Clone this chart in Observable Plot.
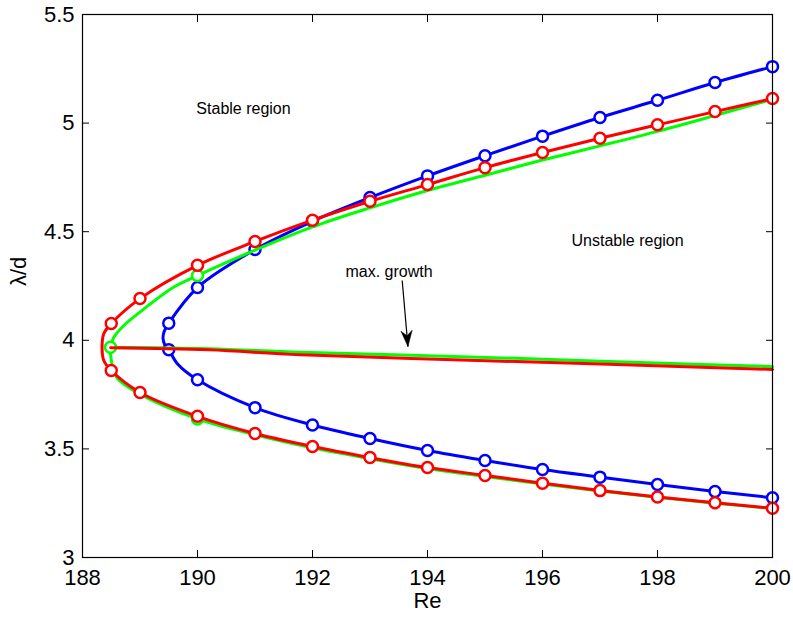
<!DOCTYPE html>
<html>
<head>
<meta charset="utf-8">
<script src="https://cdn.jsdelivr.net/npm/d3@7"></script>
<script src="https://cdn.jsdelivr.net/npm/@observablehq/plot@0.6"></script>
<style>
  html, body { margin: 0; padding: 0; background: #fff; }
  #chart { width: 793px; height: 617px; }
</style>
</head>
<body>
<div id="chart"></div>
<script>
// ---------- data ----------
const xTicks = [188, 190, 192, 194, 196, 198, 200];
const xTickLabels = ["188", "190", "192", "194", "196", "198", "200"];
const yTicks = [3, 3.5, 4, 4.5, 5, 5.5];
const yTickLabels = ["3", "3.5", "4", "4.5", "5", "5.5"];

// blue neutral curve (upper branch -> nose -> lower branch)
const blueRe = [200, 199, 198, 197, 196, 195, 194, 193, 192, 191, 190, 189.5, 189.42, 189.40, 189.43, 189.5, 189.65, 190, 191, 192, 193, 194, 195, 196, 197, 198, 199, 200];
const blueLd = [5.26, 5.187, 5.105, 5.026, 4.94, 4.85, 4.757, 4.657, 4.548, 4.418, 4.243, 4.079, 4.04, 4.01, 3.98, 3.957, 3.892, 3.818, 3.69, 3.61, 3.548, 3.493, 3.447, 3.405, 3.37, 3.336, 3.304, 3.275];
const blueMarkRe = [200, 199, 198, 197, 196, 195, 194, 193, 192, 191, 190, 189.5, 189.5, 190, 191, 192, 193, 194, 195, 196, 197, 198, 199, 200];
const blueMarkLd = [5.26, 5.187, 5.105, 5.026, 4.94, 4.85, 4.757, 4.657, 4.548, 4.418, 4.243, 4.079, 3.957, 3.818, 3.69, 3.61, 3.548, 3.493, 3.447, 3.405, 3.37, 3.336, 3.304, 3.275];

// green neutral curve
const greenRe = [200, 199, 198, 197, 196, 195, 194, 193, 192, 191, 190, 189.59, 189, 188.72, 188.545, 188.487, 188.5, 188.53, 188.62, 189, 190, 191, 192, 193, 194, 195, 196, 197, 198, 199, 200];
const greenLd = [5.11, 5.035, 4.962, 4.895, 4.83, 4.76, 4.69, 4.61, 4.522, 4.415, 4.298, 4.245, 4.13, 4.068, 4.014, 3.968, 3.91, 3.87, 3.82, 3.752, 3.638, 3.565, 3.505, 3.455, 3.41, 3.373, 3.338, 3.306, 3.277, 3.25, 3.226];
const greenMarkRe = [188.487, 190, 190];
const greenMarkLd = [3.968, 4.298, 3.638];
const greenMaxRe = [188.49, 190.2, 191.8, 195.3, 197.7, 200];
const greenMaxLd = [3.968, 3.961, 3.945, 3.919, 3.898, 3.879];

// red neutral curve
const redRe = [200, 199, 198, 197, 196, 195, 194, 193, 192, 191, 190, 189, 188.5, 188.37, 188.34, 188.37, 188.5, 189, 190, 191, 192, 193, 194, 195, 196, 197, 198, 199, 200];
const redLd = [5.113, 5.053, 4.992, 4.93, 4.865, 4.795, 4.717, 4.64, 4.553, 4.455, 4.345, 4.192, 4.077, 4.03, 3.967, 3.907, 3.861, 3.76, 3.65, 3.571, 3.511, 3.46, 3.414, 3.378, 3.342, 3.308, 3.279, 3.252, 3.227];
const redMarkRe = [200, 199, 198, 197, 196, 195, 194, 193, 192, 191, 190, 189, 188.5, 188.5, 189, 190, 191, 192, 193, 194, 195, 196, 197, 198, 199, 200];
const redMarkLd = [5.113, 5.053, 4.992, 4.93, 4.865, 4.795, 4.717, 4.64, 4.553, 4.455, 4.345, 4.192, 4.077, 3.861, 3.76, 3.65, 3.571, 3.511, 3.46, 3.414, 3.378, 3.342, 3.308, 3.279, 3.252, 3.227];
const redMaxRe = [188.49, 190.2, 191.8, 195.3, 197.7, 200];
const redMaxLd = [3.966, 3.956, 3.933, 3.904, 3.885, 3.866];

// annotations
const noteText = ["Stable region", "Unstable region", "max. growth"];
const noteRe = [190.8, 197.48, 193.33];
const noteLd = [5.067, 4.46, 4.317];
const arrowFromRe = [193.56], arrowFromLd = [4.275];
const arrowToRe = [193.66], arrowToLd = [3.971];

// ---------- helpers ----------
const pts = (xs, ys) => xs.map((x, i) => ({x, y: ys[i]}));
const xLab = new Map(xTicks.map((t, i) => [t, xTickLabels[i]]));
const yLab = new Map(yTicks.map((t, i) => [t, yTickLabels[i]]));
const BLUE = "#0000ff", GREEN = "#00ff00", RED = "#ff0000";
const LW = 3, MR = 5.5, MW = 2.5;

const arrowHead = {
  draw(context, size) {
    const r = Math.sqrt(size / Math.PI);
    context.moveTo(0, 0);
    context.lineTo(-0.7 * r, -2 * r);
    context.lineTo(0, -1.35 * r);
    context.lineTo(0.7 * r, -2 * r);
    context.closePath();
  }
};

const curveMarks = (xs, ys, mx, my, color, extra) => [
  Plot.line(pts(xs, ys), {x: "x", y: "y", stroke: color, strokeWidth: LW, curve: "catmull-rom"}),
  ...(extra || []),
  Plot.dot(pts(mx, my), {x: "x", y: "y", r: MR, stroke: color, strokeWidth: MW, fill: "white"})
];

const chart = Plot.plot({
  width: 793,
  height: 617,
  marginLeft: 82,
  marginRight: 21,
  marginTop: 14,
  marginBottom: 60,
  x: {domain: [188, 200]},
  y: {domain: [3, 5.5]},
  style: {fontFamily: "'Liberation Sans', Arial, Helvetica, sans-serif", background: "white", color: "black"},
  marks: [
    // tick labels
    Plot.axisX(xTicks, {anchor: "bottom", tickSize: 0, tickPadding: 12, fontSize: 22, tickFormat: d => xLab.get(d), label: null}),
    Plot.axisY(yTicks, {anchor: "left", tickSize: 0, tickPadding: 8, fontSize: 22, tickFormat: d => yLab.get(d), label: null}),
    // inward ticks on all four sides
    Plot.axisX(xTicks, {anchor: "bottom", tickSize: 7, dy: -7, tickFormat: () => "", label: null, stroke: "black"}),
    Plot.axisX(xTicks, {anchor: "top", tickSize: 7, dy: 7, tickFormat: () => "", label: null, stroke: "black"}),
    Plot.axisY(yTicks, {anchor: "left", tickSize: 7, dx: 7, tickFormat: () => "", label: null, stroke: "black"}),
    Plot.axisY(yTicks, {anchor: "right", tickSize: 7, dx: -7, tickFormat: () => "", label: null, stroke: "black"}),
    // axis titles
    Plot.text(["Re"], {frameAnchor: "bottom", dy: 50, fontSize: 22, fill: "black"}),
    Plot.text(["λ/d"], {frameAnchor: "left", dx: -64, rotate: -90, fontSize: 22, fill: "black"}),
    // curves
    ...curveMarks(blueRe, blueLd, blueMarkRe, blueMarkLd, BLUE),
    ...curveMarks(greenRe, greenLd, greenMarkRe, greenMarkLd, GREEN, [
      Plot.line(pts(greenMaxRe, greenMaxLd), {x: "x", y: "y", stroke: GREEN, strokeWidth: LW, curve: "catmull-rom"})
    ]),
    ...curveMarks(redRe, redLd, redMarkRe, redMarkLd, RED, [
      Plot.line(pts(redMaxRe, redMaxLd), {x: "x", y: "y", stroke: RED, strokeWidth: LW, curve: "catmull-rom"})
    ]),
    // annotations
    Plot.text(noteText.map((t, i) => ({t, x: noteRe[i], y: noteLd[i]})), {x: "x", y: "y", text: "t", fontSize: 16, fill: "black"}),
    Plot.link({length: 1}, {x1: arrowFromRe, y1: arrowFromLd, x2: arrowToRe, y2: arrowToLd, stroke: "black", strokeWidth: 1.2}),
    Plot.dot({length: 1}, {x: arrowToRe, y: arrowToLd, symbol: arrowHead, r: 8, fill: "black", stroke: "black", strokeWidth: 0.5, rotate: -5}),
    Plot.frame({stroke: "black", strokeWidth: 1.2})
  ]
});
document.getElementById("chart").appendChild(chart);
</script>
</body>
</html>
